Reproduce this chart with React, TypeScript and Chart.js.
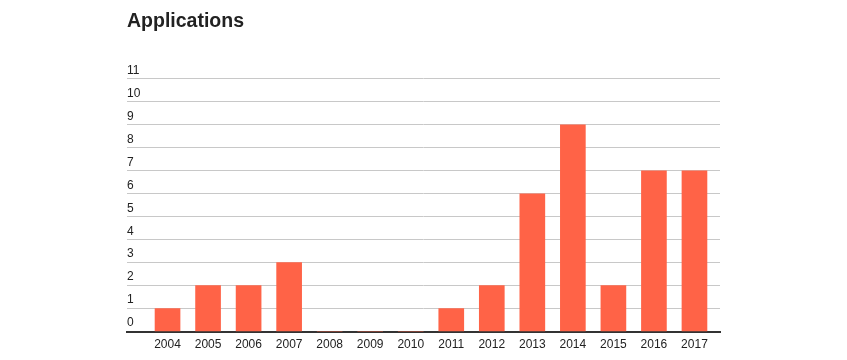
import React, { useEffect, useRef } from "react";
import { Chart, registerables } from "chart.js";

Chart.register(...registerables);

const years = [2004, 2005, 2006, 2007, 2008, 2009, 2010, 2011, 2012, 2013, 2014, 2015, 2016, 2017];
const applications = [1, 2, 2, 3, 0, 0, 0, 1, 2, 6, 9, 2, 7, 7];
const yTicks = [0, 1, 2, 3, 4, 5, 6, 7, 8, 9, 10, 11];
const chartTitle = "Applications";

const FONT = "Arial, 'Liberation Sans', sans-serif";

export default function App() {
  const ref = useRef<HTMLCanvasElement | null>(null);

  useEffect(() => {
    if (!ref.current) return;
    const chart = new Chart(ref.current, {
      type: "bar",
      data: {
        datasets: [
          {
            label: chartTitle,
            data: years.map((y, i) => ({ x: y, y: applications[i] })),
            backgroundColor: "#ff6347",
            borderWidth: 0,
            barThickness: 25,
          },
        ],
      },
      options: {
        animation: false,
        responsive: false,
        maintainAspectRatio: false,
        layout: { padding: { left: 127, right: 127, top: 10, bottom: 10 } },
        plugins: {
          legend: { display: false },
          tooltip: { enabled: false },
          title: {
            display: true,
            text: chartTitle,
            align: "start",
            color: "#222222",
            font: { family: FONT, size: 19.5, weight: "bold" },
            padding: { top: 0, bottom: 45.5 },
          },
        },
        scales: {
          x: {
            type: "linear",
            min: 2003,
            max: 2017.63,
            offset: false,
            z: 1,
            afterBuildTicks: (scale: any) => {
              scale.ticks = years.map((v) => ({ value: v }));
            },
            grid: { display: false },
            border: { display: true, color: "#333333", width: 2 },
            ticks: {
              color: "#222222",
              font: { family: FONT, size: 12 },
              padding: -2,
              maxRotation: 0,
              autoSkip: false,
              callback: (v: any) => String(v),
            },
          },
          y: {
            min: 0,
            max: 11,
            afterBuildTicks: (scale: any) => {
              scale.ticks = yTicks.map((v) => ({ value: v }));
            },
            grid: { color: "#c8c8c8", lineWidth: 1, drawTicks: false },
            border: { display: false },
            ticks: {
              mirror: true,
              padding: 0,
              labelOffset: -8.5,
              color: "#222222",
              font: { family: FONT, size: 12 },
            },
          },
        },
      },
    });
    return () => chart.destroy();
  }, []);

  return (
    <div style={{ position: "fixed", left: 0, top: 0, width: 847, height: 360 }}>
      <canvas ref={ref} width={847} height={360} style={{ width: 847, height: 360 }} />
    </div>
  );
}
